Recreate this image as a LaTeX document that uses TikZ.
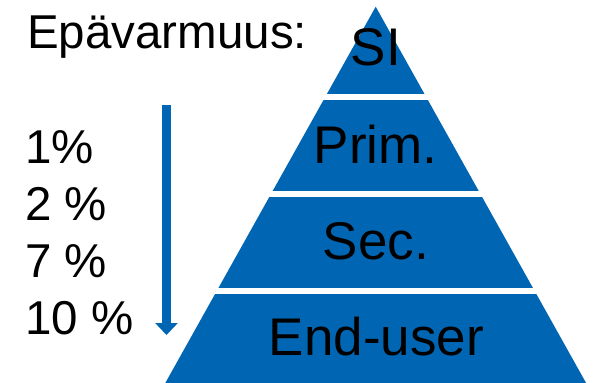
\documentclass[tikz,border=0pt]{standalone}
\usepackage{fontspec}
\setmainfont{Liberation Sans}
\usetikzlibrary{arrows.meta}
\definecolor{pyrblue}{RGB}{0,102,179}
\tikzset{
  lefttext/.style={anchor=base west,inner sep=0pt,font=\fontsize{47.5}{52}\selectfont},
  pyrtext/.style={anchor=base,inner sep=0pt,font=\fontsize{53}{57}\selectfont},
  gapline/.style={white,line width=5.5pt},
}

\begin{document}
\begin{tikzpicture}[x=1pt,y=-1pt]
\useasboundingbox (0,0) rectangle (595,383);
% pyramid
\coordinate (apex) at (375.7,6.7);
\coordinate (bl) at (165.3,383);
\coordinate (br) at (586.1,383);
\fill[pyrblue] (apex) -- (bl) -- (br) -- cycle;
\foreach \y in {97.2,194.2,290.8}
	\draw[gapline] (150,\y) -- (600,\y);
\node[pyrtext] (si) at (375.8,65) {SI};
\node[pyrtext] (prim) at (375.8,163.3) {Prim.};
\node[pyrtext] (sec) at (375.8,259) {Sec.};
\node[pyrtext] (enduser) at (376.5,355.7) {End-user};
% uncertainty
\node[lefttext] (title) at (27,48.3) {Epävarmuus:};
\foreach \p [count=\i] in {1\%,2 \%,7 \%,10 \%}
	\node[lefttext] (p\i) at (25,163.3+57.2*\i-57.2) {\p};
\coordinate (atop) at (166.5,105);
\coordinate (abot) at (166.5,335);
\draw[pyrblue,line width=8.5pt,-{Triangle[width=22pt,length=12pt]}] (atop) -- (abot);
\end{tikzpicture}
\end{document}
